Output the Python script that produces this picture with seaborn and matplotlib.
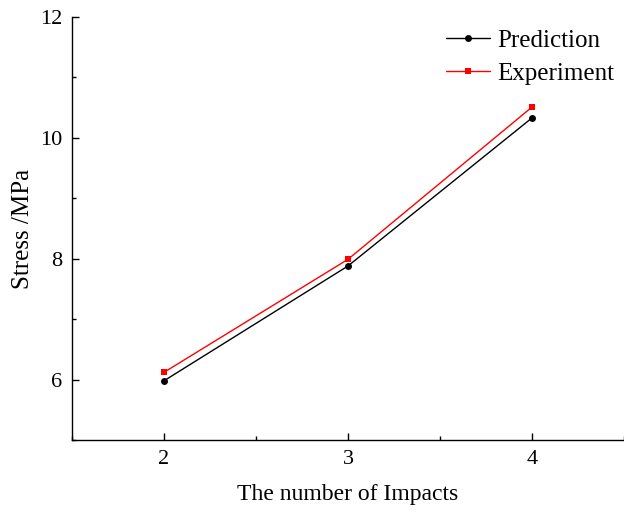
import matplotlib
matplotlib.use("Agg")
import matplotlib.pyplot as plt
import seaborn as sns
import pandas as pd
from matplotlib.ticker import MultipleLocator

impacts = [2, 3, 4]
prediction = [5.98, 7.88, 10.33]
experiment = [6.12, 7.99, 10.51]

sns.set_style("ticks")
plt.rcParams['font.family'] = ['Liberation Serif', 'DejaVu Serif']
plt.rcParams['text.color'] = 'black'
plt.rcParams['axes.labelcolor'] = 'black'
plt.rcParams['xtick.color'] = 'black'
plt.rcParams['ytick.color'] = 'black'

df = pd.DataFrame({
    "x": impacts * 2,
    "y": prediction + experiment,
    "series": ["Prediction"] * 3 + ["Experiment"] * 3,
})

fig = plt.figure(figsize=(6.24, 5.12), dpi=100)
ax = fig.add_axes([0.1154, 0.1406, 0.8846, 0.8262])

sns.lineplot(data=df, x="x", y="y", hue="series", style="series",
             palette={"Prediction": "black", "Experiment": "red"},
             markers={"Prediction": "o", "Experiment": "s"},
             dashes=False, markersize=5, linewidth=1, markeredgewidth=0,
             ax=ax)

ax.set_xlim(1.5, 4.5)
ax.set_ylim(5, 12)
ax.xaxis.set_major_locator(MultipleLocator(1))
ax.xaxis.set_minor_locator(MultipleLocator(0.5))
ax.yaxis.set_major_locator(MultipleLocator(2))
ax.yaxis.set_minor_locator(MultipleLocator(1))
ax.set_yticks([6, 8, 10, 12])
ax.tick_params(which="major", direction="in", length=5, width=1, labelsize=16, pad=7)
ax.tick_params(which="minor", direction="in", length=3, width=1)
sns.despine(ax=ax)
for s in ["left", "bottom"]:
    ax.spines[s].set_linewidth(1)
    ax.spines[s].set_color("black")

ax.set_xlabel("The number of Impacts", fontsize=17, labelpad=11)
ax.set_ylabel("Stress /MPa", fontsize=18, labelpad=4)

leg = ax.legend(loc="upper right", frameon=False, fontsize=18,
                handlelength=1.75, handletextpad=0.3, borderaxespad=0.0,
                labelspacing=0.42, bbox_to_anchor=(1.0, 0.995))

fig.savefig("out.png", dpi=100)
